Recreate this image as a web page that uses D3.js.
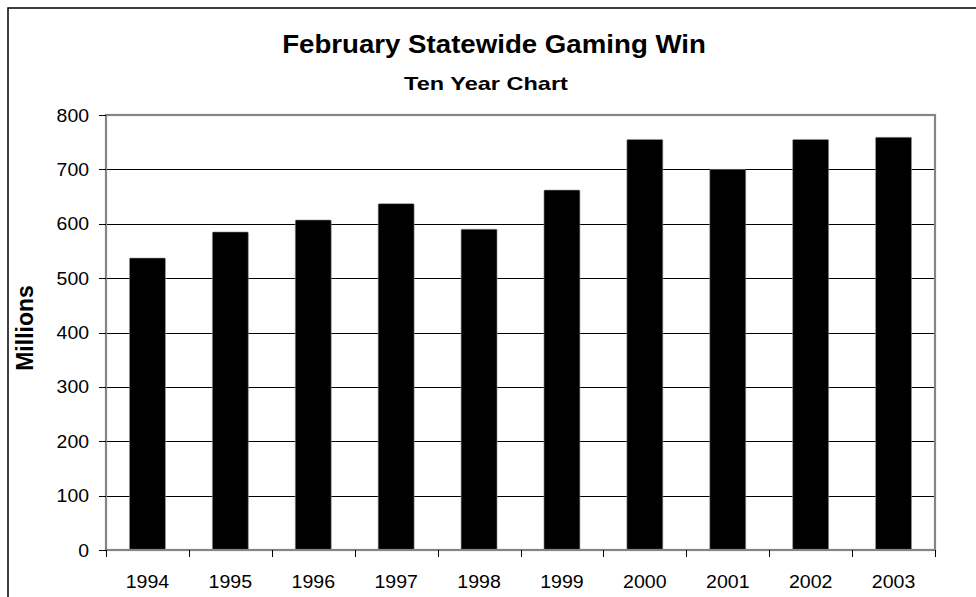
<!DOCTYPE html>
<html>
<head>
<meta charset="utf-8">
<script src="https://cdn.jsdelivr.net/npm/d3@7"></script>
<style>
  html, body { margin: 0; padding: 0; background: #fff; }
  svg { display: block; font-family: Arial, "Liberation Sans", sans-serif; }
</style>
</head>
<body>
<svg id="chart" width="976" height="597"></svg>
<script>
// chart data
const years = ["1994", "1995", "1996", "1997", "1998", "1999", "2000", "2001", "2002", "2003"];
const gamingWin = [537, 585, 607, 637, 590, 662, 755, 700, 755, 759];
const yTicks = [0, 100, 200, 300, 400, 500, 600, 700, 800];

const titleText = "February Statewide Gaming Win";
const subtitleText = "Ten Year Chart";
const yLabel = "Millions";

const W = 976, H = 597;
const plot = { left: 106, right: 935, top: 115, bottom: 550 };

const svg = d3.select("#chart");

// outer frame
svg.append("path")
  .attr("d", `M8,${H + 2} L8,8 L${W + 2},8`)
  .attr("fill", "none")
  .attr("stroke", "#000")
  .attr("stroke-width", 1.5);

const x = d3.scaleBand()
  .domain(years)
  .range([plot.left, plot.right])
  .paddingInner(0.566)
  .paddingOuter(0.283);

const y = d3.scaleLinear()
  .domain([0, 800])
  .range([plot.bottom, plot.top]);

// text squeezed/stretched sideways to a given width (the source is stretched)
function fitText(g, ax, ay, txt, anchor, size, width, bold) {
  const t = g.append("text")
    .attr("text-anchor", anchor)
    .attr("font-size", size)
    .attr("font-weight", bold ? "bold" : "normal")
    .text(txt);
  const sx = width ? width / t.node().getComputedTextLength() : 1;
  t.attr("transform", `translate(${ax},${ay}) scale(${sx},1)`);
  return t;
}

// gridlines
svg.append("g")
  .selectAll("line")
  .data(yTicks.filter(d => d > 0 && d < 800))
  .join("line")
  .attr("x1", plot.left).attr("x2", plot.right)
  .attr("y1", d => Math.round(y(d)) + 0.5).attr("y2", d => Math.round(y(d)) + 0.5)
  .attr("stroke", "#000")
  .attr("stroke-width", 1);

// bars
svg.append("g")
  .selectAll("rect")
  .data(gamingWin)
  .join("rect")
  .attr("x", (d, i) => x(years[i]))
  .attr("y", d => y(d))
  .attr("width", x.bandwidth())
  .attr("height", d => y(0) - y(d))
  .attr("fill", "#000")
  .attr("stroke", "#9a9a9a")
  .attr("stroke-width", 0.6)
  .attr("rx", 1);

// plot frame (gray)
svg.append("rect")
  .attr("x", plot.left).attr("y", plot.top)
  .attr("width", plot.right - plot.left)
  .attr("height", plot.bottom - plot.top)
  .attr("fill", "none")
  .attr("stroke", "#858585")
  .attr("stroke-width", 2.2);

// y axis ticks + labels
const yAxis = svg.append("g");
yAxis.selectAll("line")
  .data(yTicks)
  .join("line")
  .attr("x1", plot.left - 7).attr("x2", plot.left)
  .attr("y1", d => Math.round(y(d)) + 0.5).attr("y2", d => Math.round(y(d)) + 0.5)
  .attr("stroke", "#000");
yTicks.forEach(d => {
  fitText(yAxis, 89, y(d) + 6.5, String(d), "end", 18, 0, false)
    .attr("transform", `translate(89,${y(d) + 6.5}) scale(1.08,1)`);
});

// x axis ticks at category boundaries + labels
const xTickPos = d3.range(years.length + 1).map(i => plot.left + i * x.step());
const xAxis = svg.append("g");
xAxis.selectAll("line")
  .data(xTickPos)
  .join("line")
  .attr("x1", d => Math.round(d) + 0.5).attr("x2", d => Math.round(d) + 0.5)
  .attr("y1", plot.bottom).attr("y2", plot.bottom + 7)
  .attr("stroke", "#000");
years.forEach(d => {
  fitText(xAxis, x(d) + x.bandwidth() / 2, 588, d, "middle", 19, 0, false)
    .attr("transform", `translate(${x(d) + x.bandwidth() / 2},588) scale(1.03,1)`);
});

// titles
fitText(svg, 494, 53, titleText, "middle", 26, 424, true);
fitText(svg, 486, 90, subtitleText, "middle", 19, 164, true);

// y axis title
svg.append("text")
  .attr("transform", "translate(33,328) rotate(-90)")
  .attr("text-anchor", "middle")
  .attr("font-size", 23)
  .attr("font-weight", "bold")
  .text(yLabel);
</script>
</body>
</html>
